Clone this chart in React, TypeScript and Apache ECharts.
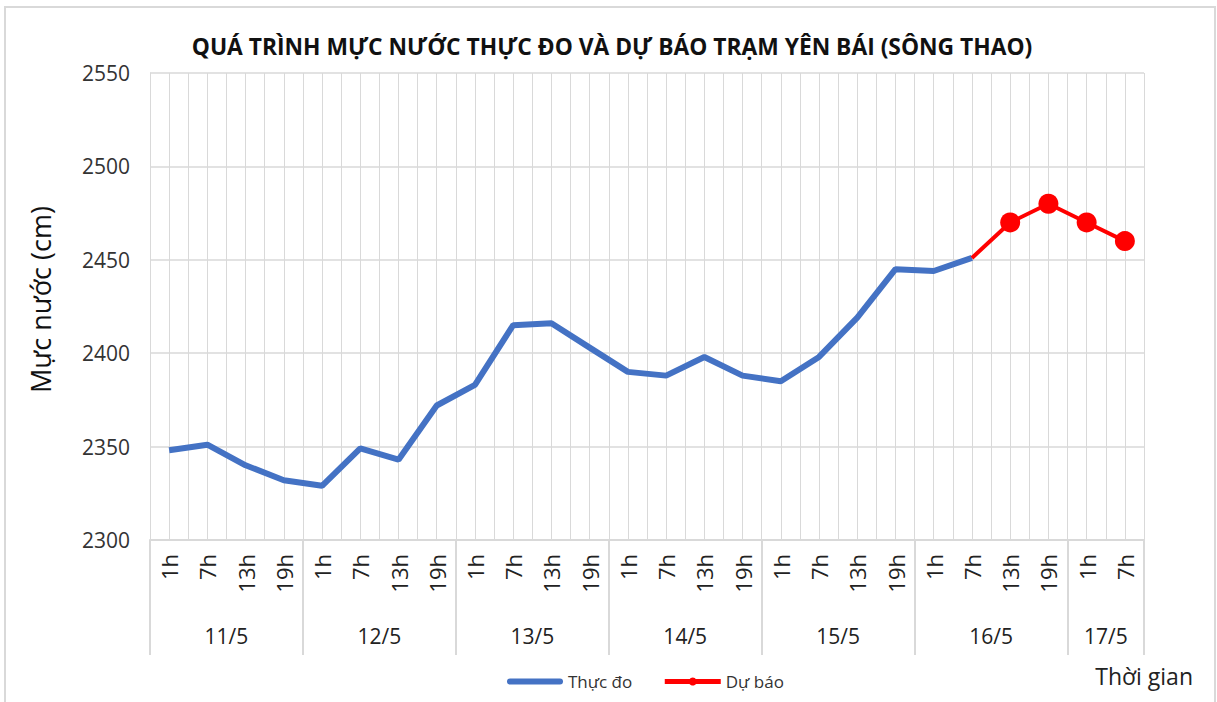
import React, { useEffect, useRef } from "react";
import * as echarts from "echarts";

const hours: string[] = [
  "1h", "7h", "13h", "19h",
  "1h", "7h", "13h", "19h",
  "1h", "7h", "13h", "19h",
  "1h", "7h", "13h", "19h",
  "1h", "7h", "13h", "19h",
  "1h", "7h", "13h", "19h",
  "1h", "7h",
];
const days: string[] = ["11/5", "12/5", "13/5", "14/5", "15/5", "16/5", "17/5"];
const hoursPerDay: number[] = [4, 4, 4, 4, 4, 4, 2];

const observed: (number | null)[] = [
  2348, 2351, 2340, 2332,
  2329, 2349, 2343, 2372,
  2383, 2415, 2416, 2403,
  2390, 2388, 2398, 2388,
  2385, 2398, 2419, 2445,
  2444, 2451, null, null,
  null, null,
];
const forecast: (number | null)[] = [
  null, null, null, null,
  null, null, null, null,
  null, null, null, null,
  null, null, null, null,
  null, null, null, null,
  null, 2451, 2470, 2480,
  2470, 2460,
];
const yTicks = { min: 2300, max: 2550, interval: 50 };

const FONT = "'Open Sans', 'Noto Sans', sans-serif";
const GRID_C = "#d9d9d9";

export default function App() {
  const ref = useRef<HTMLDivElement>(null);
  useEffect(() => {
    document.body.style.margin = "0";
    if (!ref.current) return;
    const chart = echarts.init(ref.current, null, { renderer: "svg" });

    // half-category axis: 2 slots per hour category -> boundaries at every half
    const halfCount = hours.length * 2;
    const halfData: string[] = [];
    const sepIdx = new Set<number>();
    const labelIdx = new Map<number, string>();
    let acc = 0;
    sepIdx.add(0);
    days.forEach((d, i) => {
      const n = hoursPerDay[i] * 2;
      labelIdx.set(acc + n / 2, d);
      acc += n;
      sepIdx.add(acc);
    });
    for (let i = 0; i <= halfCount; i++) halfData.push(labelIdx.get(i) ?? "");

    const fcData = forecast.map((v, i) => {
      if (v === null) return null;
      if (i > 0 && forecast[i - 1] === null) return { value: v, symbol: "none" };
      return v;
    });

    chart.setOption({
      animation: false,
      backgroundColor: "#ffffff",
      title: {
        text: "QUÁ TRÌNH MỰC NƯỚC THỰC ĐO VÀ DỰ BÁO TRẠM YÊN BÁI (SÔNG THAO)",
        left: 607,
        textAlign: "center",
        top: 30,
        textStyle: { fontFamily: FONT, fontWeight: "bold", fontSize: 22.8, color: "#111111" },
      },
      graphic: [
        {
          type: "rect",
          shape: { x: 5, y: 7, width: 1210, height: 720 },
          style: { fill: "none", stroke: GRID_C, lineWidth: 2 },
          silent: true,
        },
        {
          type: "text",
          right: 24,
          top: 664,
          style: { text: "Thời gian", fontFamily: FONT, fontSize: 23, fill: "#222222" },
        },
      ],
      legend: {
        left: 502,
        top: 668,
        itemWidth: 56,
        itemHeight: 10,
        itemGap: 30,
        textStyle: { fontFamily: FONT, fontSize: 17, color: "#333333" },
        data: [
          { name: "Thực đo", icon: "path://M0,0 M56,10 M3,2 L53,2 A3,3 0 0 1 53,8 L3,8 A3,3 0 0 1 3,2 Z" },
          { name: "Dự báo", lineStyle: { width: 5 } },
        ],
      },
      grid: { left: 150, right: 73, top: 73, bottom: 162, containLabel: false },
      xAxis: [
        {
          type: "category",
          data: hours,
          boundaryGap: true,
          position: "bottom",
          axisLine: { show: true, lineStyle: { color: GRID_C, width: 2 } },
          axisTick: { show: false },
          axisLabel: {
            rotate: 90,
            interval: 0,
            margin: 14,
            fontFamily: FONT,
            fontSize: 22,
            color: "#222222",
          },
          splitLine: { show: false },
        },
        {
          type: "category",
          data: halfData,
          boundaryGap: false,
          position: "bottom",
          axisLine: { show: false },
          axisTick: {
            show: true,
            length: 115,
            interval: (idx: number) => sepIdx.has(idx),
            lineStyle: { color: GRID_C, width: 2 },
          },
          axisLabel: {
            interval: (idx: number) => labelIdx.has(idx),
            margin: 85,
            fontFamily: FONT,
            fontSize: 21,
            color: "#222222",
          },
          splitLine: { show: true, interval: 0, lineStyle: { color: GRID_C, width: 1 } },
        },
      ],
      yAxis: {
        type: "value",
        min: yTicks.min,
        max: yTicks.max,
        interval: yTicks.interval,
        name: "Mực nước (cm)",
        nameLocation: "middle",
        nameGap: 96,
        nameTextStyle: { fontFamily: FONT, fontSize: 27, color: "#111111", padding: [0, 0, 0, 14] },
        axisLine: { show: true, lineStyle: { color: GRID_C, width: 1 } },
        axisTick: { show: false },
        axisLabel: {
          fontFamily: FONT,
          fontSize: 21,
          color: "#333333",
          margin: 20,
          formatter: (v: number) => String(v),
        },
        splitLine: { show: true, lineStyle: { color: GRID_C, width: 1.5 } },
      },
      series: [
        {
          name: "Thực đo",
          type: "line",
          data: observed,
          xAxisIndex: 0,
          symbol: "none",
          lineStyle: { color: "#4472C4", width: 6 },
          itemStyle: { color: "#4472C4" },
          z: 3,
        },
        {
          name: "Dự báo",
          type: "line",
          data: fcData,
          xAxisIndex: 0,
          symbol: "circle",
          symbolSize: 20,
          lineStyle: { color: "#FF0000", width: 4 },
          itemStyle: { color: "#FF0000" },
          z: 4,
        },
      ],
    });
    return () => chart.dispose();
  }, []);
  return <div ref={ref} style={{ width: 1217, height: 702 }} />;
}
